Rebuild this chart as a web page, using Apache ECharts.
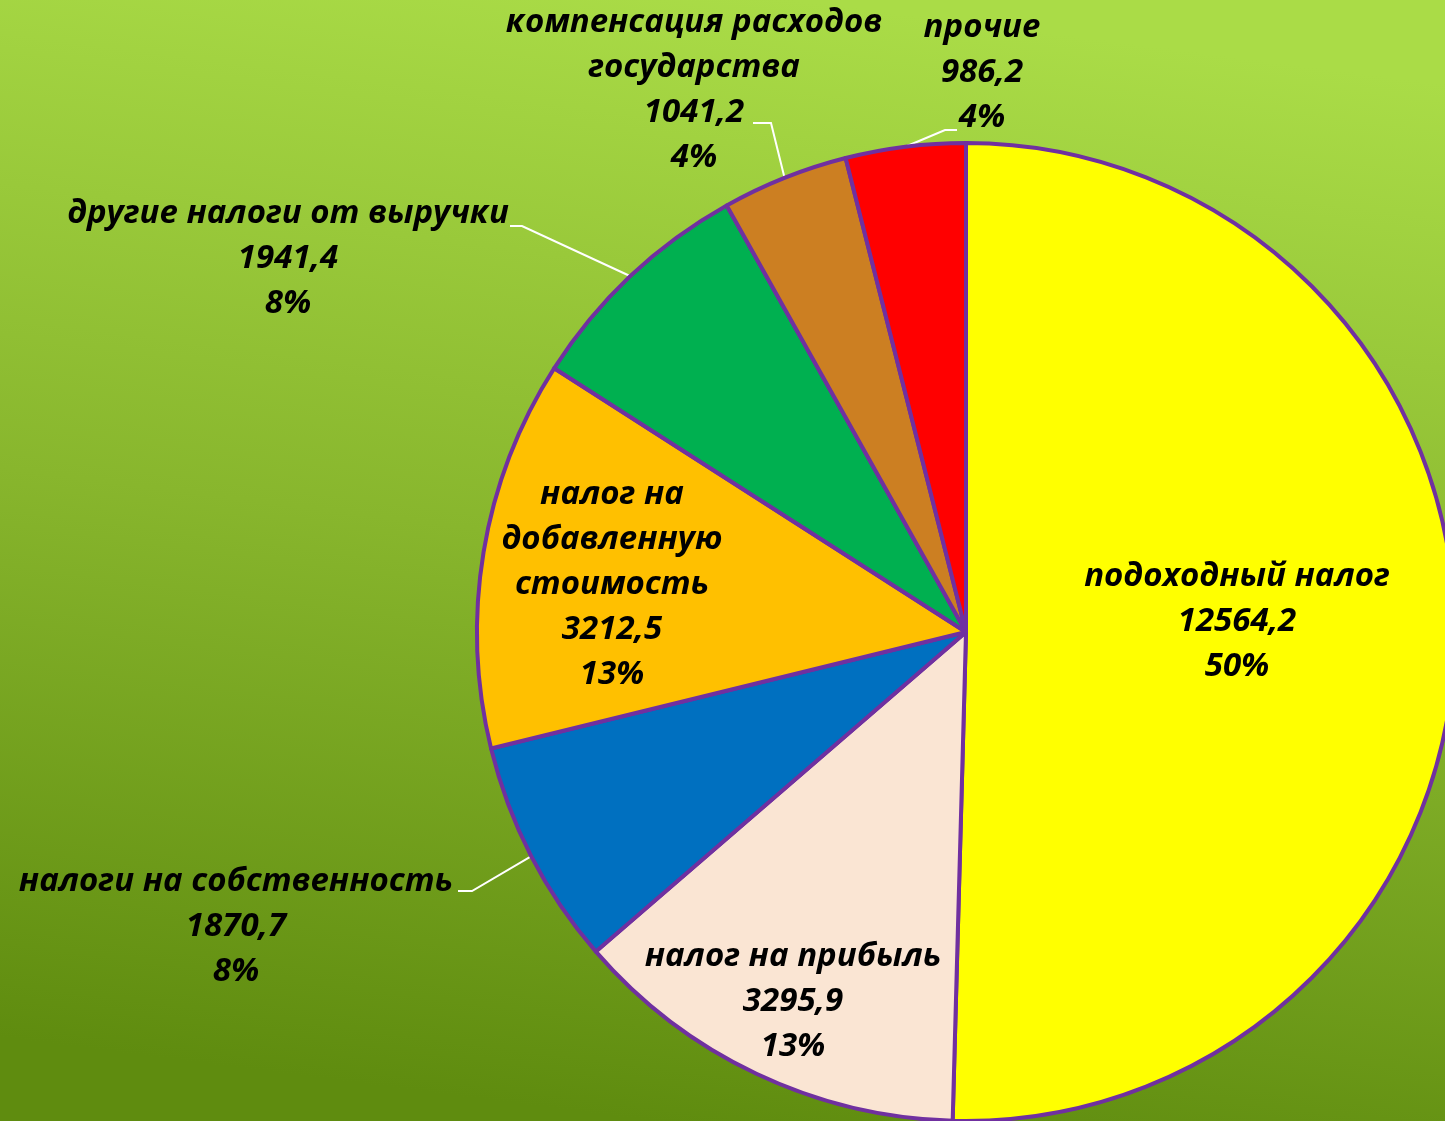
<!DOCTYPE html>
<html>
<head>
<meta charset="utf-8">
<title>Налоговые доходы</title>
<script src="https://cdn.jsdelivr.net/npm/echarts@6/dist/echarts.min.js"></script>
<style>
    html, body { margin: 0; padding: 0; }
    #tax-pie { width: 1445px; height: 1121px; }
</style>
</head>
<body>
<div id="tax-pie"></div>
<script>
    // названия (с переносами как на слайде)
    var names = [
        'подоходный налог',
        'налог на прибыль',
        'налоги на собственность',
        'налог на\nдобавленную\nстоимость',
        'другие налоги от выручки',
        'компенсация расходов\nгосударства',
        'прочие'
    ];
    var values = [12564.2, 3295.9, 1870.7, 3212.5, 1941.4, 1041.2, 986.2];
    var colors = ['#ffff00', '#fae5d3', '#0070c0', '#ffc000', '#00b050', '#cc7f22', '#ff0000'];

    // есть ли выносная линия у подписи
    var withLine = [false, false, true, false, true, true, true];

    // центр подписи и точки выносной линии (после точки на краю круга)
    var labelSpots = [
        {x: 1237, y: 622},
        {x: 793, y: 1002},
        {x: 236, y: 927, line: [[472, 891], [458, 891]]},
        {x: 612, y: 585},
        {x: 288, y: 259, line: [[522, 226], [510, 226]]},
        {x: 694, y: 90, line: [[771, 123], [753, 123]]},
        {x: 982, y: 73, line: [[945, 130], [957, 130]]}
    ];

    var chart = echarts.init(document.getElementById('tax-pie'));

    var pieData = [];
    for (var i = 0; i < values.length; i++) {
        pieData.push({
            name: names[i],
            value: values[i],
            itemStyle: {color: colors[i]},
            label: {position: withLine[i] ? 'outside' : 'inside'},
            labelLine: {show: withLine[i]}
        });
    }

    var option = {
        backgroundColor: {
            type: 'linear', x: 0.55, y: 0, x2: 0.45, y2: 1,
            colorStops: [
                {offset: 0, color: '#aadc47'},
                {offset: 0.5, color: '#88b62d'},
                {offset: 1, color: '#5f8c0f'}
            ]
        },
        animation: false,
        series: [{
            type: 'pie',
            center: [966, 632],
            radius: 489,
            startAngle: 90,
            clockwise: true,
            data: pieData,
            itemStyle: {
                borderColor: '#7030a0',
                borderWidth: 4
            },
            label: {
                color: '#000',
                fontFamily: 'Open Sans',
                fontWeight: 'bold',
                fontStyle: 'italic',
                fontSize: 33,
                lineHeight: 45,
                formatter: function (p) {
                    var v = p.value.toFixed(1).replace('.', ',');
                    return p.name + '\n' + v + '\n' + Math.round(p.percent) + '%';
                }
            },
            labelLine: {
                lineStyle: {color: '#ffffff', width: 2}
            },
            labelLayout: function (p) {
                var s = labelSpots[p.dataIndex];
                var res = {x: s.x, y: s.y, align: 'center', verticalAlign: 'middle'};
                if (s.line && p.labelLinePoints) {
                    res.labelLinePoints = [p.labelLinePoints[0], s.line[0], s.line[1]];
                }
                return res;
            }
        }]
    };
    chart.setOption(option);
</script>
</body>
</html>
